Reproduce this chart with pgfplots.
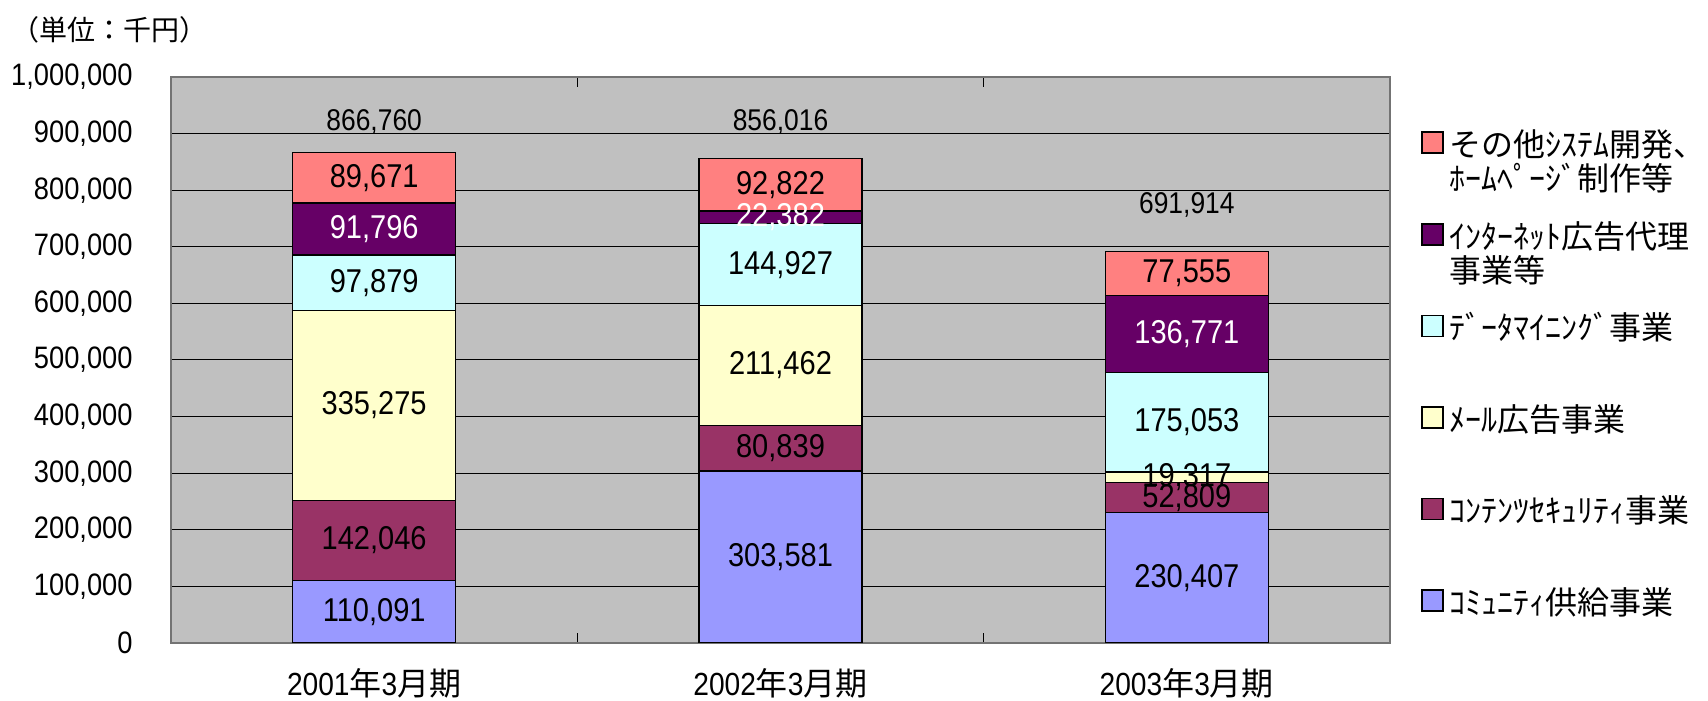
\documentclass[border=0pt]{standalone}
\usepackage{fontspec}
\setmainfont{Liberation Sans}[FakeStretch=0.88]
\newfontfamily\cjk{Noto Sans CJK JP}
\usepackage{pgfplots}
\pgfplotsset{compat=1.18}
\definecolor{cPink}{HTML}{FF8080}
\definecolor{cPurple}{HTML}{660066}
\definecolor{cCyan}{HTML}{CCFFFF}
\definecolor{cYellow}{HTML}{FFFFCC}
\definecolor{cMaroon}{HTML}{993366}
\definecolor{cLav}{HTML}{9999FF}
\definecolor{bgGray}{HTML}{C0C0C0}
\newcommand\lgd[1]{\parbox[c][44bp][t]{150bp}{\cjk\fontsize{16bp}{17bp}\selectfont\rule{0pt}{15bp}#1}}
\pgfplotsset{sqlegend/.style={legend image code/.code={%
  \path[draw=none,fill=none] (0bp,-22bp) rectangle (10.5bp,22bp);
  \draw[##1,draw=black,line width=0.75bp] (0bp,-0.3bp) rectangle (10.5bp,10.2bp);}}}
\begin{document}
\begin{tikzpicture}
\useasboundingbox (-85.5bp,-29bp) rectangle (768.5bp,321.5bp);
\begin{axis}[
  at={(0,0)}, anchor=south west,
  scale only axis, width=609.5bp, height=283bp,
  xmin=-0.5, xmax=2.5, ymin=0, ymax=1000000,
  clip mode=individual,
  ybar stacked, bar width=81.5bp,
  axis background/.style={fill=bgGray},
  axis line style={draw=black!55, line width=0.8bp},
  ymajorgrids, grid style={black, line width=0.5bp},
  ytick={0,100000,200000,300000,400000,500000,600000,700000,800000,900000,1000000},
  scaled y ticks=false,
  /pgf/number format/assume math mode=true,
  yticklabel style={/pgf/number format/fixed, /pgf/number format/1000 sep={,},
     font=\fontsize{15.5bp}{15.5bp}\selectfont, inner sep=0pt, anchor=east, xshift=-19bp},
  xtick={-0.5,0.5,1.5,2.5}, x tick label as interval,
  xticklabels={{2001{\cjk 年}3{\cjk 月期}},{2002{\cjk 年}3{\cjk 月期}},{2003{\cjk 年}3{\cjk 月期}}},
  xticklabel style={font=\fontsize{16bp}{16bp}\selectfont, inner sep=0pt, anchor=base, yshift=-26.3bp},
  tick align=inside, major tick length=5bp, tick style={black, line width=0.5bp},
  reverse legend,
  legend style={at={(1.02543,0.9442)}, anchor=north west, draw=none, fill=none,
     inner sep=0pt, outer sep=0pt, row sep=1.8bp, column sep=3bp,
     nodes={inner sep=0pt, anchor=west}},
  legend cell align=left,
]
\addplot[fill=cLav, draw=black, line width=0.75bp, sqlegend] coordinates {(0,110091) (1,303581) (2,230407)};
\addlegendentry{\lgd{ｺﾐｭﾆﾃｨ供給事業}}
\addplot[fill=cMaroon, draw=black, line width=0.75bp, sqlegend] coordinates {(0,142046) (1,80839) (2,52809)};
\addlegendentry{\lgd{ｺﾝﾃﾝﾂｾｷｭﾘﾃｨ事業}}
\addplot[fill=cYellow, draw=black, line width=0.75bp, sqlegend] coordinates {(0,335275) (1,211462) (2,19317)};
\addlegendentry{\lgd{ﾒｰﾙ広告事業}}
\addplot[fill=cCyan, draw=black, line width=0.75bp, sqlegend] coordinates {(0,97879) (1,144927) (2,175053)};
\addlegendentry{\lgd{ﾃﾞｰﾀﾏｲﾆﾝｸﾞ事業}}
\addplot[fill=cPurple, draw=black, line width=0.75bp, sqlegend] coordinates {(0,91796) (1,22382) (2,136771)};
\addlegendentry{\lgd{ｲﾝﾀｰﾈｯﾄ広告代理\par 事業等}}
\addplot[fill=cPink, draw=black, line width=0.75bp, sqlegend] coordinates {(0,89671) (1,92822) (2,77555)};
\addlegendentry{\lgd{その他ｼｽﾃﾑ開発、\par ﾎｰﾑﾍﾟｰｼﾞ制作等}}
\node[font=\cjk\fontsize{14bp}{14bp}\selectfont, xshift=-30.5bp, yshift=23.5bp] at (rel axis cs:0,1) {（単位：千円）};
\end{axis}
\begin{axis}[
  at={(0,0)}, anchor=south west,
  scale only axis, width=609.5bp, height=283bp,
  xmin=-0.5, xmax=2.5, ymin=0, ymax=1000000,
  hide axis, clip=false,
  point meta=explicit symbolic,
  nodes near coords,
  nodes near coords style={anchor=center, inner sep=0pt, text=black, font=\fontsize{16.5bp}{16.5bp}\selectfont},
]
\addplot[draw=none, mark=none] coordinates {
 (0,55045.5)[110,091] (0,181114)[142,046] (0,419774.5)[335,275] (0,636351.5)[97,879] (0,821922.5)[89,671]
 (1,151790.5)[303,581] (1,344000.5)[80,839] (1,490151)[211,462] (1,668345.5)[144,927] (1,809602)[92,822]
 (2,115203.5)[230,407] (2,256811.5)[52,809] (2,292874.5)[19,317] (2,390059.5)[175,053] (2,653134.5)[77,555]
};
\addplot[draw=none, mark=none, nodes near coords style={text=white}] coordinates {
 (0,731189)[91,796] (1,752000)[22,382] (2,545971.5)[136,771]
};
\addplot[draw=none, mark=none, nodes near coords style={font=\fontsize{15bp}{15bp}\selectfont}] coordinates {
 (0,920500)[866,760] (1,920500)[856,016] (2,773900)[691,914]
};
\end{axis}
\end{tikzpicture}
\end{document}
